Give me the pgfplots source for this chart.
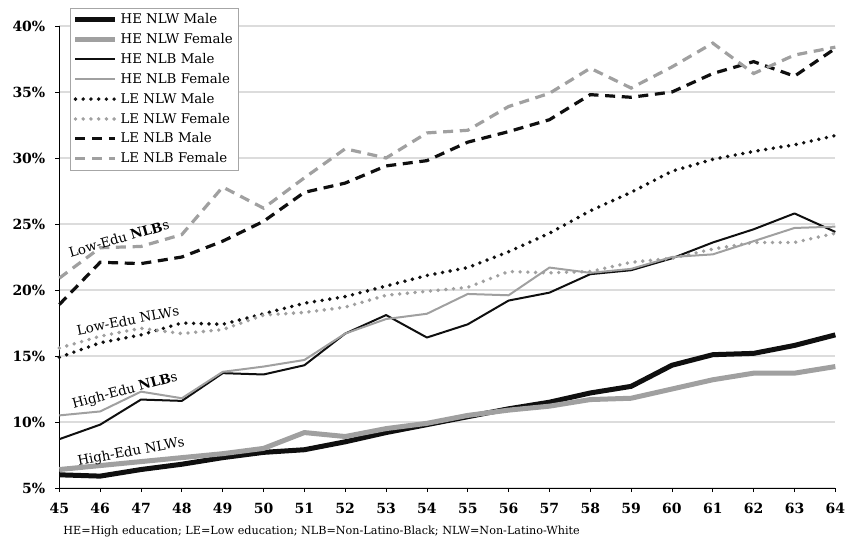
\documentclass[border=0pt]{standalone}
\usepackage{fontspec}
\setmainfont{DejaVu Serif}
\usepackage{pgfplots}
\usepackage{pgfplotstable}
\pgfplotsset{compat=1.18}
\definecolor{lg}{RGB}{160,160,160}
\definecolor{dk}{RGB}{15,15,15}
\definecolor{gridc}{RGB}{220,220,220}
\pgfplotstableread{
age m1 f1 m2 f2 m3 f3 m4 f4
45 6.0 6.4 8.7 10.5 14.9 15.6 18.9 20.9
46 5.9 6.7 9.8 10.8 16.0 16.5 22.1 23.2
47 6.4 7.0 11.7 12.3 16.6 17.1 22.0 23.3
48 6.8 7.3 11.6 11.8 17.5 16.7 22.5 24.2
49 7.3 7.6 13.7 13.8 17.4 17.0 23.7 27.8
50 7.7 8.0 13.6 14.2 18.2 18.1 25.2 26.2
51 7.9 9.2 14.3 14.7 19.0 18.3 27.4 28.5
52 8.5 8.9 16.7 16.7 19.5 18.7 28.1 30.7
53 9.2 9.5 18.1 17.8 20.3 19.6 29.4 30.0
54 9.8 9.9 16.4 18.2 21.1 19.9 29.8 31.9
55 10.4 10.5 17.4 19.7 21.7 20.2 31.2 32.1
56 11.0 10.9 19.2 19.6 22.9 21.4 32.0 33.9
57 11.5 11.2 19.8 21.7 24.3 21.3 32.9 34.9
58 12.2 11.7 21.2 21.3 26.0 21.4 34.8 36.8
59 12.7 11.8 21.5 21.6 27.4 22.1 34.6 35.3
60 14.3 12.5 22.4 22.5 29.0 22.4 35.0 36.9
61 15.1 13.2 23.6 22.7 29.9 23.1 36.4 38.7
62 15.2 13.7 24.6 23.7 30.5 23.6 37.3 36.4
63 15.8 13.7 25.8 24.7 31.0 23.6 36.2 37.8
64 16.6 14.2 24.4 24.8 31.7 24.3 38.3 38.4
}\data
\begin{document}
\begin{tikzpicture}
\begin{axis}[
  scale only axis, width=582pt, height=346.5pt,
  xmin=45, xmax=64, ymin=5, ymax=40,
  axis x line*=bottom, axis y line*=left,
  axis line style={black, line width=0.75pt},
  xtick={45,46,...,64},
  xticklabels={45,46,47,48,49,50,51,52,53,54,55,56,57,58,59,60,61,62,63,64},
  ytick={5,10,...,40},
  yticklabels={5\%,10\%,15\%,20\%,25\%,30\%,35\%,40\%},
  ymajorgrids, grid style={gridc, line width=0.9pt},
  tick align=outside, major tick length=3pt,
  tick style={black, line width=0.6pt},
  ticklabel style={font=\bfseries\fontsize{10.5}{12}\selectfont},
  xticklabel style={yshift=-5pt},
  yticklabel style={xshift=-4pt},
  legend style={at={(rel axis cs:0.0138,1.039)}, anchor=north west,
    draw=gray!70, fill=white, font=\fontsize{10}{12}\selectfont,
    inner xsep=2pt, inner ysep=2pt, row sep=1.8pt,
    cells={anchor=west}},
  legend image code/.code={\draw[#1] (0pt,0pt) -- (30pt,0pt);},
  clip=false,
]
\addplot[dk, line width=3.75pt, line join=round] table[x=age,y=m1] {\data};
\addlegendentry{HE NLW Male}
\addplot[lg, line width=3.75pt, line join=round] table[x=age,y=f1] {\data};
\addlegendentry{HE NLW Female}
\addplot[dk, line width=1.5pt, line join=round] table[x=age,y=m2] {\data};
\addlegendentry{HE NLB Male}
\addplot[lg, line width=1.5pt, line join=round] table[x=age,y=f2] {\data};
\addlegendentry{HE NLB Female}
\addplot[dk, line width=2.9pt, line cap=round, dash pattern=on 0pt off 5.8pt] table[x=age,y=m3] {\data};
\addlegendentry{LE NLW Male}
\addplot[lg, line width=2.9pt, line cap=round, dash pattern=on 0pt off 5.8pt] table[x=age,y=f3] {\data};
\addlegendentry{LE NLW Female}
\addplot[dk, line width=2.4pt, dash pattern=on 7.5pt off 5pt] table[x=age,y=m4] {\data};
\addlegendentry{LE NLB Male}
\addplot[lg, line width=2.4pt, dash pattern=on 7.5pt off 5pt] table[x=age,y=f4] {\data};
\addlegendentry{LE NLB Female}
\node[rotate=16, font=\fontsize{10}{12}\selectfont] at (axis cs:46.46,23.9) {Low-Edu \textbf{NLB}s};
\node[rotate=11, font=\fontsize{10}{12}\selectfont] at (axis cs:46.68,17.7) {Low-Edu NLWs};
\node[rotate=15, font=\fontsize{10}{12}\selectfont] at (axis cs:46.61,12.35) {High-Edu \textbf{NLB}s};
\node[rotate=10.5, font=\fontsize{10}{12}\selectfont] at (axis cs:46.76,7.7) {High-Edu NLWs};
\node[anchor=west, font=\fontsize{8.4}{10}\selectfont, inner sep=0pt] at (rel axis cs:0.005,-0.095) {HE=High education; LE=Low education; NLB=Non-Latino-Black; NLW=Non-Latino-White};
\end{axis}
\path (current axis.south west) ++(-44.5pt,-41.25pt) rectangle ++(641.25pt,407.25pt);
\end{tikzpicture}
\end{document}
